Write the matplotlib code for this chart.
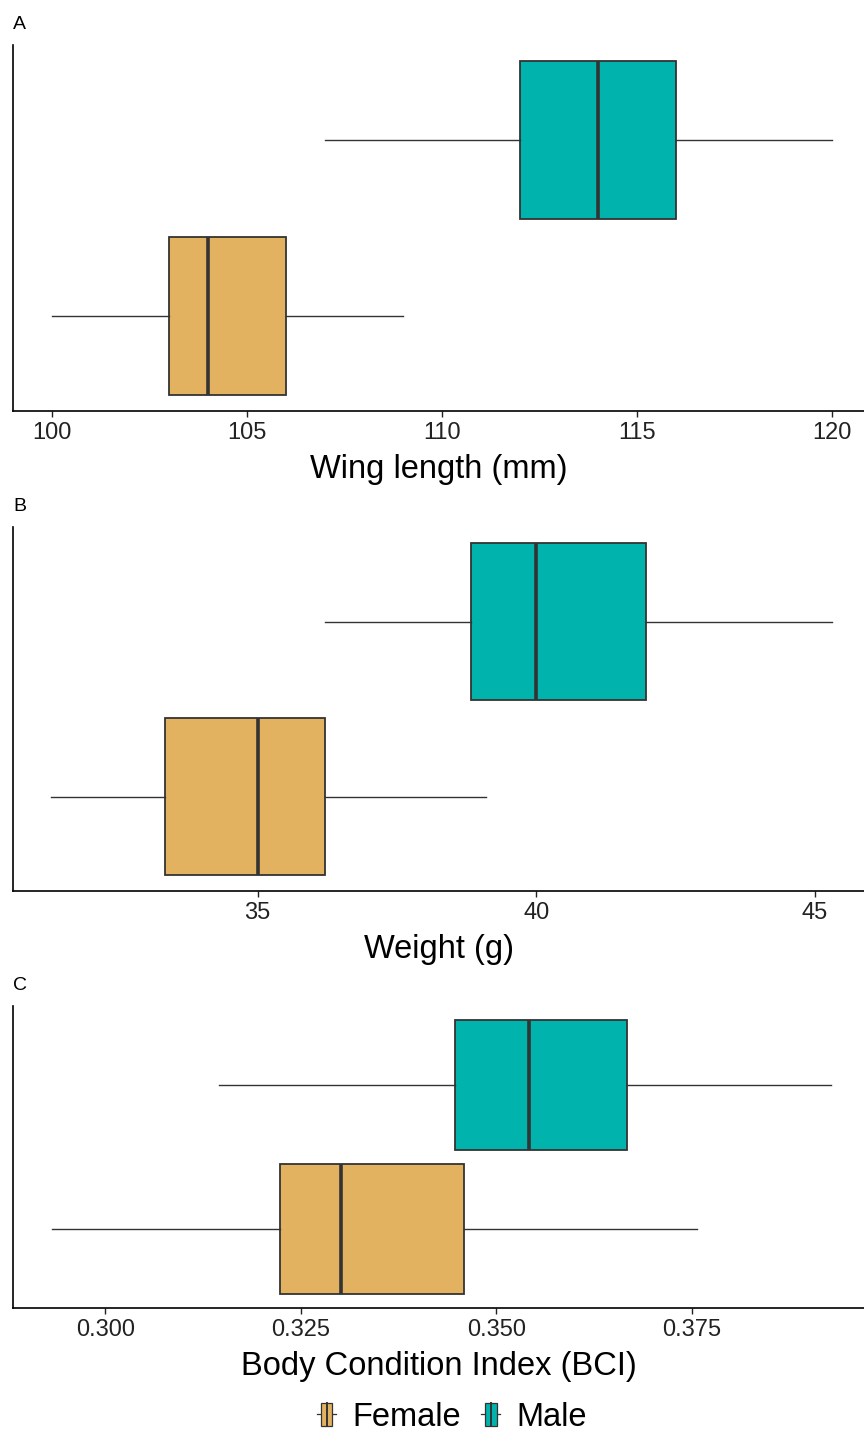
import numpy as np
import matplotlib.pyplot as plt
from matplotlib.legend_handler import HandlerBase
from matplotlib.patches import Rectangle
from matplotlib.lines import Line2D

plt.rcParams['font.family'] = ['Liberation Sans', 'DejaVu Sans']

# groups, drawn bottom (1) to top (2)
groups = ['Female', 'Male']
colors = ['#E3B261', '#00B4AD']

# box summaries: lower whisker, q1, median, q3, upper whisker
wing_lo = [100.0, 107.0]
wing_q1 = [103.0, 112.0]
wing_med = [104.0, 114.0]
wing_q3 = [106.0, 116.0]
wing_hi = [109.0, 120.0]

weight_lo = [31.3, 36.2]
weight_q1 = [33.33, 38.83]
weight_med = [35.0, 40.0]
weight_q3 = [36.2, 41.97]
weight_hi = [39.1, 45.3]

bci_lo = [0.2932, 0.3146]
bci_q1 = [0.3223, 0.3447]
bci_med = [0.3301, 0.3542]
bci_q3 = [0.3459, 0.3667]
bci_hi = [0.3757, 0.3928]

W, H = 864, 1430
fig = plt.figure(figsize=(W / 100, H / 100), dpi=100)


def add_panel(top, bottom):
    return fig.add_axes([13 / W, 1 - bottom / H, 1 - 13 / W, (bottom - top) / H])


def draw(ax, lo, q1, med, q3, hi, xlim, ticks, ticklabels, xlabel, letter, pad):
    stats = []
    for i in range(2):
        stats.append(dict(whislo=lo[i], q1=q1[i], med=med[i], q3=q3[i], whishi=hi[i], fliers=[]))
    bp = ax.bxp(stats, positions=[1, 2], widths=0.9, orientation='horizontal',
                patch_artist=True, showcaps=False,
                boxprops=dict(edgecolor='#333333', linewidth=1.3),
                medianprops=dict(color='#333333', linewidth=2.6, solid_capstyle='butt'),
                whiskerprops=dict(color='#333333', linewidth=1.0))
    for patch, c in zip(bp['boxes'], colors):
        patch.set_facecolor(c)
    ax.set_xlim(*xlim)
    ax.set_ylim(1 - pad, 2 + pad)
    ax.set_yticks([])
    ax.set_xticks(ticks)
    ax.set_xticklabels(ticklabels)
    ax.tick_params(axis='x', length=4, width=1, pad=4, labelsize=17, colors='#222222')
    for s in ['top', 'right']:
        ax.spines[s].set_visible(False)
    for s in ['left', 'bottom']:
        ax.spines[s].set_linewidth(1.2)
        ax.spines[s].set_color('black')
    ax.set_xlabel(xlabel, fontsize=23.5, labelpad=7)
    ax.text(0.0, 1.0 + 12 / (ax.bbox.height), letter, transform=ax.transAxes, fontsize=14,
            ha='left', va='bottom')


axA = add_panel(45, 411)
draw(axA, wing_lo, wing_q1, wing_med, wing_q3, wing_hi, (99.0, 120.82),
     [100, 105, 110, 115, 120], ['100', '105', '110', '115', '120'],
     'Wing length (mm)', 'A', 0.54)

axB = add_panel(527, 891)
draw(axB, weight_lo, weight_q1, weight_med, weight_q3, weight_hi, (30.61, 45.88),
     [35, 40, 45], ['35', '40', '45'], 'Weight (g)', 'B', 0.54)

axC = add_panel(1006, 1308)
draw(axC, bci_lo, bci_q1, bci_med, bci_q3, bci_hi, (0.2882, 0.397),
     [0.300, 0.325, 0.350, 0.375], ['0.300', '0.325', '0.350', '0.375'],
     'Body Condition Index (BCI)', 'C', 0.548)


class BoxKey(HandlerBase):
    def create_artists(self, legend, orig_handle, xdescent, ydescent, width, height, fontsize, trans):
        cx = width / 2 - xdescent
        cy = height / 2 - ydescent
        bw = width * 0.6
        bh = height
        rect = Rectangle((cx - bw / 2, cy - bh / 2), bw, bh, facecolor=orig_handle.get_facecolor(),
                         edgecolor='#333333', linewidth=0.9, transform=trans)
        med = Line2D([cx, cx], [cy - bh / 2, cy + bh / 2], color='#333333', linewidth=1.4, transform=trans)
        wl = Line2D([cx - width / 2, cx - bw / 2], [cy, cy], color='#333333', linewidth=0.9, transform=trans)
        wr = Line2D([cx + bw / 2, cx + width / 2], [cy, cy], color='#333333', linewidth=0.9, transform=trans)
        return [wl, wr, rect, med]


handles = [Rectangle((0, 0), 1, 1, facecolor=c) for c in colors]
fig.legend(handles, groups, loc='center', bbox_to_anchor=(452 / W, 1 - 1417 / H), ncol=2,
           frameon=False, fontsize=23.5, handler_map={Rectangle: BoxKey()},
           handlelength=0.6, handleheight=0.7, handletextpad=0.5, columnspacing=0.6)

fig.savefig('out.png', dpi=100)
